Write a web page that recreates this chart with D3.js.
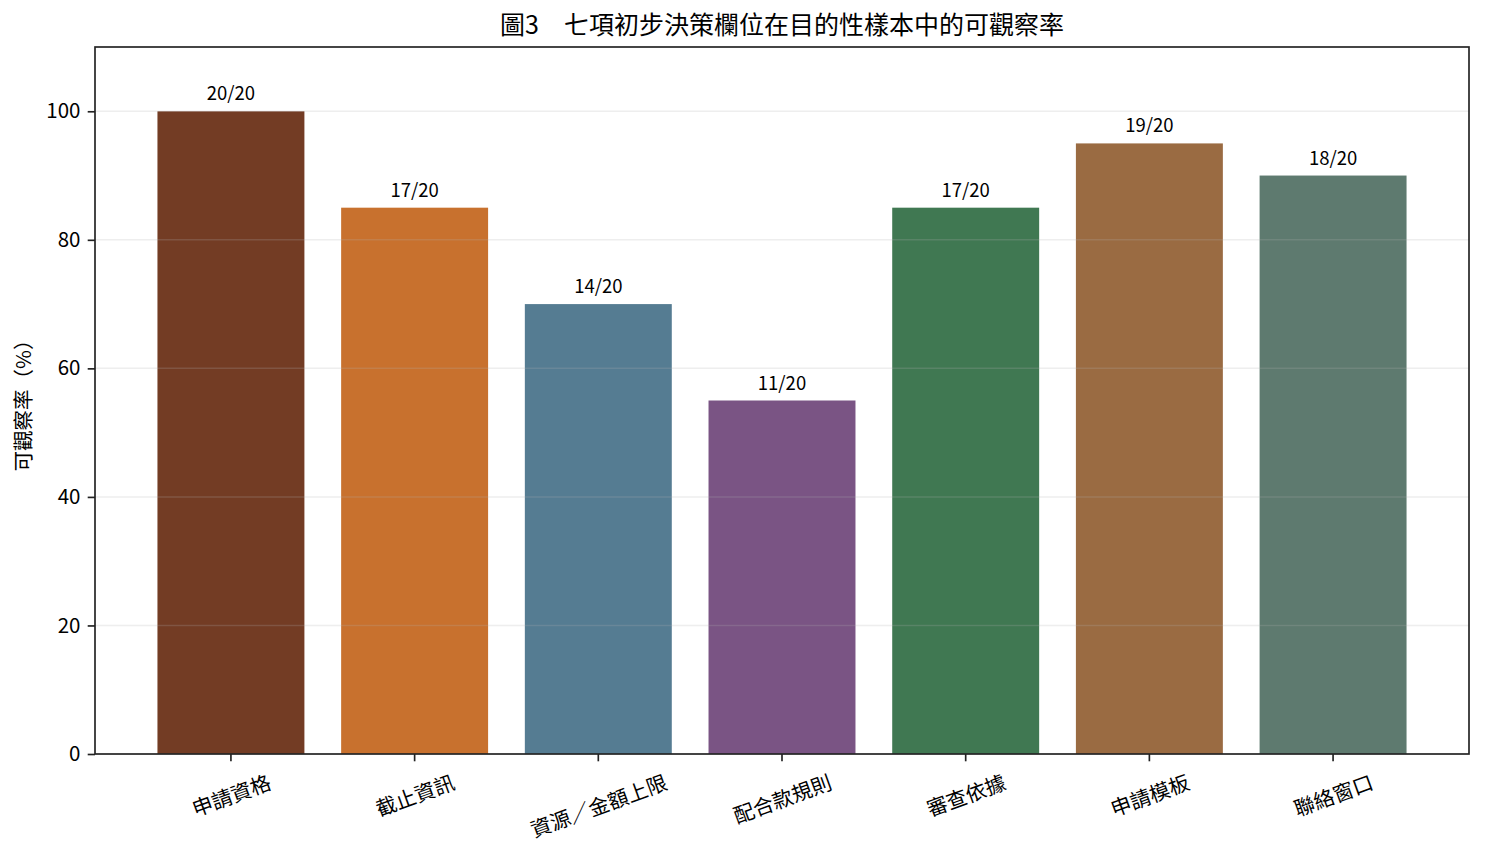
<!DOCTYPE html>
<html><head><meta charset="utf-8">
<script src="https://cdn.jsdelivr.net/npm/d3@7"></script>
<style>
html,body{margin:0;padding:0;background:#fff;}
text{font-family:"Noto Sans CJK TC","Noto Sans CJK SC","Noto Sans",sans-serif;fill:#000;}
</style></head>
<body><svg id="chart" width="1485" height="854"></svg>
<script>
const categories = ["申請資格","截止資訊","資源／金額上限","配合款規則","審查依據","申請模板","聯絡窗口"];
const values = [100, 85, 70, 55, 85, 95, 90];
const barLabels = ["20/20","17/20","14/20","11/20","17/20","19/20","18/20"];
const colors = ["#733C24","#C8712E","#557C92","#7A5484","#407852","#9A6B42","#5E7A6F"];
const yTicks = [0,20,40,60,80,100];
const titleText = "圖3　七項初步決策欄位在目的性樣本中的可觀察率";
const yLabelText = "可觀察率（%）";

const svg = d3.select("#chart");
const L = 95, R = 1469, T = 47, B = 754;
const x = d3.scaleLinear().domain([-0.74, 6.74]).range([L, R]);
const y = d3.scaleLinear().domain([0, 110]).range([B, T]);
const bw = 0.8;

// bars
svg.append("g").selectAll("rect").data(values).join("rect")
  .attr("x", (d,i) => x(i - bw/2))
  .attr("width", (d,i) => x(i + bw/2) - x(i - bw/2))
  .attr("y", d => y(d))
  .attr("height", d => y(0) - y(d))
  .attr("fill", (d,i) => colors[i]);

// grid (above bars)
svg.append("g").selectAll("line").data(yTicks).join("line")
  .attr("x1", L).attr("x2", R)
  .attr("y1", d => y(d)).attr("y2", d => y(d))
  .attr("stroke", "#b0b0b0").attr("stroke-opacity", 0.22).attr("stroke-width", 1.5);

// bar labels
svg.append("g").selectAll("text").data(values).join("text")
  .attr("x", (d,i) => x(i))
  .attr("y", d => y(d) - 11)
  .attr("text-anchor", "middle")
  .attr("font-size", 18.5)
  .text((d,i) => barLabels[i]);

// y axis
const yAxis = svg.append("g").attr("transform", `translate(${L},0)`)
  .call(d3.axisLeft(y).tickValues(yTicks).tickSize(7.3).tickPadding(7.3).tickFormat(d3.format("d")));
yAxis.select(".domain").remove();
yAxis.selectAll(".tick line").attr("stroke", "#222").attr("stroke-width", 1.67);
yAxis.selectAll(".tick text").attr("font-size", 20.5).attr("fill", "#000")
  .attr("font-family", '"Noto Sans CJK TC","Noto Sans",sans-serif');

// x axis ticks
const xt = svg.append("g");
xt.selectAll("line").data(categories).join("line")
  .attr("x1", (d,i) => x(i)).attr("x2", (d,i) => x(i))
  .attr("y1", B).attr("y2", B + 7.3)
  .attr("stroke", "#222").attr("stroke-width", 1.67);

const ang = 20 * Math.PI / 180;
const top0 = B + 7.3 + 7.3;
xt.selectAll("text").data(categories).join("text")
  .attr("font-size", 20.5)
  .attr("text-anchor", "middle")
  .attr("dominant-baseline", "central")
  .text(d => d)
  .each(function(d, i) {
    const w = this.getComputedTextLength();
    const h = 20.5 * 1.2;
    const rh = w * Math.sin(ang) + h * Math.cos(ang);
    const cx = x(i), cy = top0 + rh / 2;
    d3.select(this).attr("x", cx).attr("y", cy)
      .attr("transform", `rotate(-20,${cx},${cy})`);
  });

// frame
svg.append("rect").attr("x", L).attr("y", T).attr("width", R - L).attr("height", B - T)
  .attr("fill", "none").attr("stroke", "#222").attr("stroke-width", 1.67);

// title
svg.append("text").attr("x", (L + R) / 2).attr("y", 34)
  .attr("text-anchor", "middle").attr("font-size", 25).text(titleText);

// y label
svg.append("text").attr("transform", `translate(31,${(T + B) / 2}) rotate(-90)`)
  .attr("text-anchor", "middle").attr("font-size", 20.5).text(yLabelText);
</script></body></html>
